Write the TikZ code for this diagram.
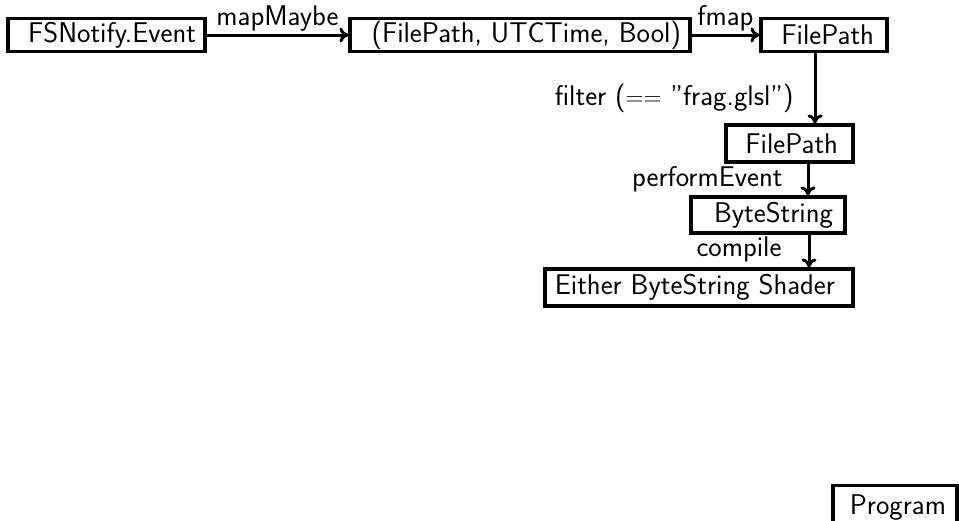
\documentclass[tikz,border=0pt]{standalone}
\usetikzlibrary{arrows.meta}
\newcommand\rtxt[2]{\makebox[#1pt][r]{#2}}
\begin{document}
\begin{tikzpicture}[x=1pt,y=-1pt,
  every node/.style={font=\sffamily\fontsize{28.5}{32}\selectfont},
  box/.style={draw, line width=3.2pt, inner ysep=0pt, minimum height=#1},
  box/.default=33,
  conn/.style={line width=3pt, -{To[length=9pt,width=15pt]}},
  lab/.style={inner sep=2pt}]
\useasboundingbox (0,0) rectangle (959,520);
\node[box, inner xsep=9] (n1) at (106.5,35) {\rtxt{179}{FSNotify.Event}};
\node[box, inner xsep=9] (n2) at (520,35) {\rtxt{322}{(FilePath, UTCTime, Bool)}};
\node[box, inner xsep=13] (n3) at (824,35) {\rtxt{100}{FilePath}};
\node[box=37, inner xsep=15] (n4) at (789.5,143.5) {\rtxt{97}{FilePath}};
\node[box=36, inner xsep=12] (n5) at (768,215) {\rtxt{130}{ByteString}};
\node[box=37, inner xsep=18] (n6) at (699,287.5) {\rtxt{272}{Either ByteString Shader}};
\node[box=44, inner xsep=11, anchor=north] (n7) at (895,484) {\rtxt{102}{Program}};
\coordinate (c1) at (815,0);
\coordinate (c2) at (808,0);
\coordinate (c3) at (809,0);
\draw[conn] (n1.east) -- node[lab, anchor=south] {mapMaybe} (n2.west);
\draw[conn] (n2.east) -- node[lab, anchor=south] {fmap} (n3.west);
\draw[conn] (n3.south -| c1) -- node[lab, anchor=east, pos=0.65, xshift=-18] {filter ($==$ ''frag.glsl'')} (n4.north -| c1);
\draw[conn] (n4.south -| c2) -- node[lab, anchor=east, pos=0.5, xshift=-22] {performEvent} (n5.north -| c2);
\draw[conn] (n5.south -| c3) -- node[lab, anchor=east, pos=0.45, xshift=-24] {compile} (n6.north -| c3);
\end{tikzpicture}
\end{document}
